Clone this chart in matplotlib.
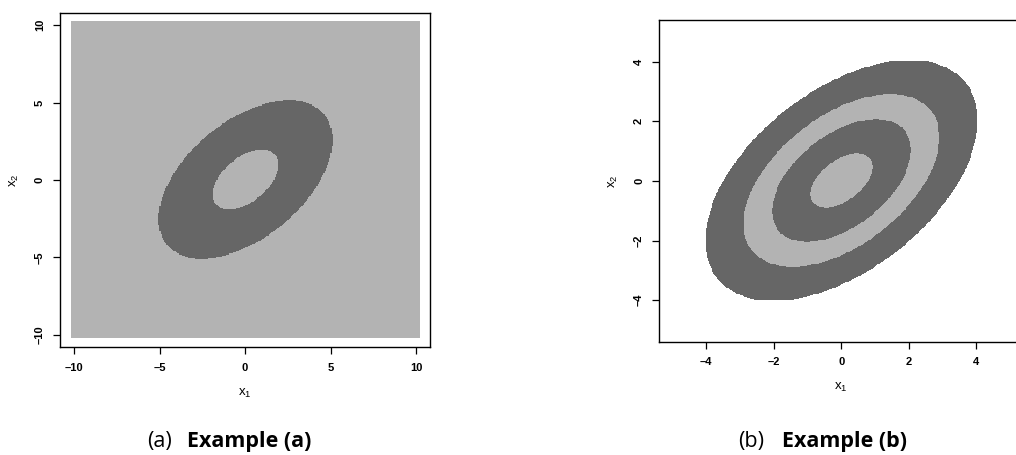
import numpy as np
import matplotlib.pyplot as plt
from matplotlib.colors import ListedColormap

# =============================================================================
# Values
# =============================================================================
rho = 0.5                       # correlation of the quadratic form
a_grid_half = 10.2              # panel (a) image covers [-10.2, 10.2]^2
a_radii = [1.93, 5.1]           # ring boundaries (a): light | dark | light
b_radii = [0.91, 2.06, 2.9, 4.04]  # ring boundaries (b): light|dark|light|dark|white
a_ticks = [-10, -5, 0, 5, 10]
b_ticks = [-4, -2, 0, 2, 4]
light = "#b3b3b3"
dark = "#666666"

plt.rcParams["font.family"] = ["Liberation Sans", "DejaVu Sans"]
plt.rcParams["mathtext.default"] = "regular"


def mahal(half, n):
    g = np.linspace(-half, half, n)
    x1, x2 = np.meshgrid(g, g)
    q = (x1 ** 2 - 2 * rho * x1 * x2 + x2 ** 2) / (1 - rho ** 2)
    return np.sqrt(q)


def style_axes(ax, ticks, lim_x, lim_y):
    ax.set_xlim(*lim_x)
    ax.set_ylim(*lim_y)
    ax.set_xticks(ticks)
    ax.set_yticks(ticks)
    ax.set_xticklabels([str(t).replace("-", "\u2013") for t in ticks],
                       fontweight="bold", fontsize=8)
    ax.set_yticklabels([str(t).replace("-", "\u2013") for t in ticks],
                       fontweight="bold", fontsize=8, rotation=90, va="center")
    ax.tick_params(direction="out", length=5, width=0.9, pad=6)
    for s in ax.spines.values():
        s.set_linewidth(1.0)
    ax.set_aspect("auto")


fig = plt.figure(figsize=(10.16, 4.55), dpi=100)

# panel (a)
ax1 = fig.add_axes([0.0591, 0.2367, 0.3642, 0.7354])
r = mahal(a_grid_half, 300)
cls_a = np.where((r >= a_radii[0]) & (r < a_radii[1]), 1, 0)
ax1.imshow(cls_a, origin="lower", interpolation="nearest",
           extent=[-a_grid_half, a_grid_half, -a_grid_half, a_grid_half],
           cmap=ListedColormap([light, dark]), vmin=0, vmax=1)
style_axes(ax1, a_ticks, (-10.82, 10.82), (-10.8, 10.8))
ax1.set_xlabel("$x_1$", fontsize=9.5, labelpad=10)
ax1.set_ylabel("$x_2$", fontsize=9.5, labelpad=10)

# panel (b)
ax2 = fig.add_axes([0.6489, 0.2484, 0.358, 0.7077])
half_b = 4.3
r = mahal(half_b, 300)
cls_b = np.digitize(r, b_radii).astype(float)
cls_b[cls_b >= len(b_radii)] = np.nan
ax2.imshow(cls_b, origin="lower", interpolation="nearest",
           extent=[-half_b, half_b, -half_b, half_b],
           cmap=ListedColormap([light, dark, light, dark]), vmin=-0.5, vmax=3.5)
style_axes(ax2, b_ticks, (-5.39, 5.39), (-5.4, 5.4))
ax2.spines["right"].set_visible(False)
ax2.set_xlabel("$x_1$", fontsize=9.5, labelpad=10)
ax2.set_ylabel("$x_2$", fontsize=9.5, labelpad=10)

# captions
cap_y = 1 - 447 / 455
for xl, xb, tag in [(147, 187, "a"), (738, 782, "b")]:
    fig.text(xl / 1016, cap_y, f"({tag})", fontsize=15.5, family="Open Sans",
             va="baseline", ha="left")
    fig.text(xb / 1016, cap_y, f"Example ({tag})", fontsize=15.5, family="Open Sans",
             fontweight="bold", va="baseline", ha="left")

fig.savefig("out.png", dpi=100)
